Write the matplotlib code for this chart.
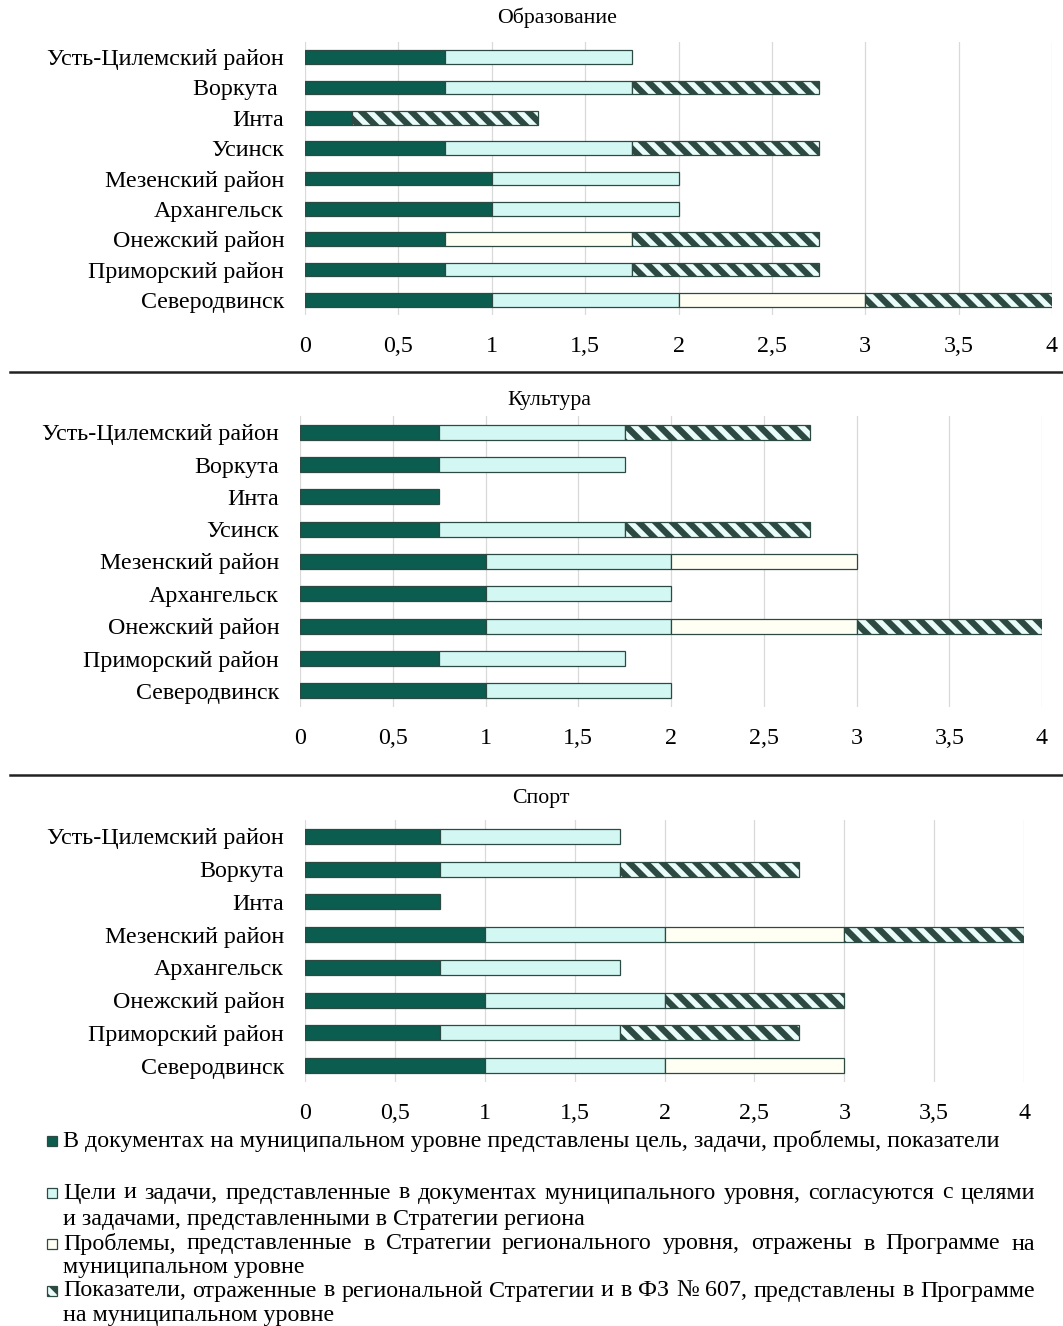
import numpy as np
import matplotlib.pyplot as plt
from matplotlib.patches import Rectangle
from matplotlib.lines import Line2D

plt.rcParams['font.family'] = ['Liberation Serif', 'DejaVu Serif']
plt.rcParams['hatch.linewidth'] = 3.0
plt.rcParams['hatch.color'] = '#0b5d4f'

# Data ----------------------------------------------------------------------------

edu_regions = ["Усть-Цилемский район", "Воркута ", "Инта", "Усинск", "Мезенский район",
               "Архангельск", "Онежский район", "Приморский район", "Северодвинск"]
edu_goal = [0.75, 0.75, 0.25, 0.75, 1, 1, 0.75, 0.75, 1]
edu_tasks = [1, 1, 0, 1, 1, 1, 0, 1, 1]
edu_problems = [0, 0, 0, 0, 0, 0, 1, 0, 1]
edu_indicators = [0, 1, 1, 1, 0, 0, 1, 1, 1]

cult_regions = ["Усть-Цилемский район", "Воркута", "Инта", "Усинск", "Мезенский район",
                "Архангельск", "Онежский район", "Приморский район", "Северодвинск"]
cult_goal = [0.75, 0.75, 0.75, 0.75, 1, 1, 1, 0.75, 1]
cult_tasks = [1, 1, 0, 1, 1, 1, 1, 1, 1]
cult_problems = [0, 0, 0, 0, 1, 0, 1, 0, 0]
cult_indicators = [1, 0, 0, 1, 0, 0, 1, 0, 0]

sport_regions = ["Усть-Цилемский район", "Воркута", "Инта", "Мезенский район",
                 "Архангельск", "Онежский район", "Приморский район", "Северодвинск"]
sport_goal = [0.75, 0.75, 0.75, 1, 0.75, 1, 0.75, 1]
sport_tasks = [1, 1, 0, 1, 1, 1, 1, 1]
sport_problems = [0, 0, 0, 1, 0, 0, 0, 1]
sport_indicators = [0, 1, 0, 1, 0, 1, 1, 0]

xticks = [0, 0.5, 1, 1.5, 2, 2.5, 3, 3.5, 4]
xtick_labels = ["0", "0,5", "1", "1,5", "2", "2,5", "3", "3,5", "4"]

legend_lines = [
    ["В документах на муниципальном уровне представлены цель, задачи, проблемы, показатели"],
    ["Цели и задачи, представленные в документах муниципального уровня,  согласуются с целями",
     "и задачами, представленными в Стратегии региона"],
    ["Проблемы, представленные в Стратегии регионального уровня,  отражены в Программе на",
     "муниципальном уровне"],
    ["Показатели, отраженные в региональной Стратегии и в ФЗ № 607, представлены в Программе",
     "на муниципальном уровне"],
]

# Styles ---------------------------------------------------------------------------

dark = '#0b5d4f'
edge = '#2c4a42'
styles = [
    dict(color=dark, hatch=None),
    dict(color='#d3f8f4', hatch=None),
    dict(color='#fffff4', hatch=None),
    dict(color='#eafcfa', hatch='\\\\\\'),
]
fs = 11.5
W, H = 1063, 1326

fig = plt.figure(figsize=(W / 150, H / 150), dpi=150)


def fx(px):
    return px / W


def fy(px):
    return 1 - px / H


def panel(rect, title, title_xy, regions, series):
    ax = fig.add_axes(rect)
    y = np.arange(len(regions))
    left = np.zeros(len(regions))
    for vals, st in zip(series, styles):
        vals = np.array(vals, dtype=float)
        m = vals > 0
        ax.barh(y[m], vals[m], left=left[m], height=0.46, color=st['color'],
                hatch=st['hatch'], edgecolor=edge, linewidth=0.6, zorder=3)
        left += vals
    ax.set_yticks(y)
    ax.set_yticklabels(regions, fontsize=fs)
    ax.set_ylim(len(regions) - 0.5, -0.5)
    ax.set_xlim(0, 4)
    ax.set_xticks(xticks)
    ax.set_xticklabels(xtick_labels, fontsize=fs)
    ax.tick_params(axis='y', length=0, pad=10)
    ax.tick_params(axis='x', length=0, pad=10)
    ax.grid(axis='x', color='#d9d9d9', linewidth=0.6, zorder=0)
    ax.set_axisbelow(True)
    for s in ax.spines.values():
        s.set_visible(False)
    fig.text(fx(title_xy[0]), fy(title_xy[1]), title, ha='center', va='center', fontsize=10.5)
    return ax


panel([fx(305), fy(315), fx(1052) - fx(305), fy(42) - fy(315)], "Образование", (557, 18),
      edu_regions, [edu_goal, edu_tasks, edu_problems, edu_indicators])
panel([fx(300), fy(707), fx(1042) - fx(300), fy(416) - fy(707)], "Культура", (549, 400),
      cult_regions, [cult_goal, cult_tasks, cult_problems, cult_indicators])
panel([fx(305), fy(1082), fx(1024) - fx(305), fy(820) - fy(1082)], "Спорт", (541, 799),
      sport_regions, [sport_goal, sport_tasks, sport_problems, sport_indicators])

# separators
for ypx in [372, 775]:
    fig.add_artist(Line2D([fx(10), 1], [fy(ypx), fy(ypx)], color='#222222', linewidth=1.2))

# legend -------------------------------------------------------------------------------
renderer = fig.canvas.get_renderer()


def justify(text, x0, x1, y):
    words = text.split()
    objs = [fig.text(0, y, w, fontsize=fs, va='center', ha='left') for w in words]
    widths = [o.get_window_extent(renderer).width / fig.bbox.width for o in objs]
    gap = (x1 - x0 - sum(widths)) / (len(words) - 1)
    x = x0
    for o, w in zip(objs, widths):
        o.set_x(x)
        x += w + gap


line_y = [[1141], [1193, 1219], [1244, 1267], [1291, 1315]]
for lines, ys, st in zip(legend_lines, line_y, styles):
    fig.add_artist(Rectangle((fx(47), fy(ys[0] + 5)), fx(10), 10 / H, facecolor=st['color'],
                             hatch=st['hatch'], edgecolor=edge, linewidth=0.6,
                             transform=fig.transFigure))
    for i, (txt, ypx) in enumerate(zip(lines, ys)):
        if len(lines) > 1 and i == 0:
            justify(txt, fx(63), fx(1035), fy(ypx))
        else:
            fig.text(fx(63), fy(ypx), txt, fontsize=fs, va='center', ha='left')

fig.savefig("out.png", dpi=150)
